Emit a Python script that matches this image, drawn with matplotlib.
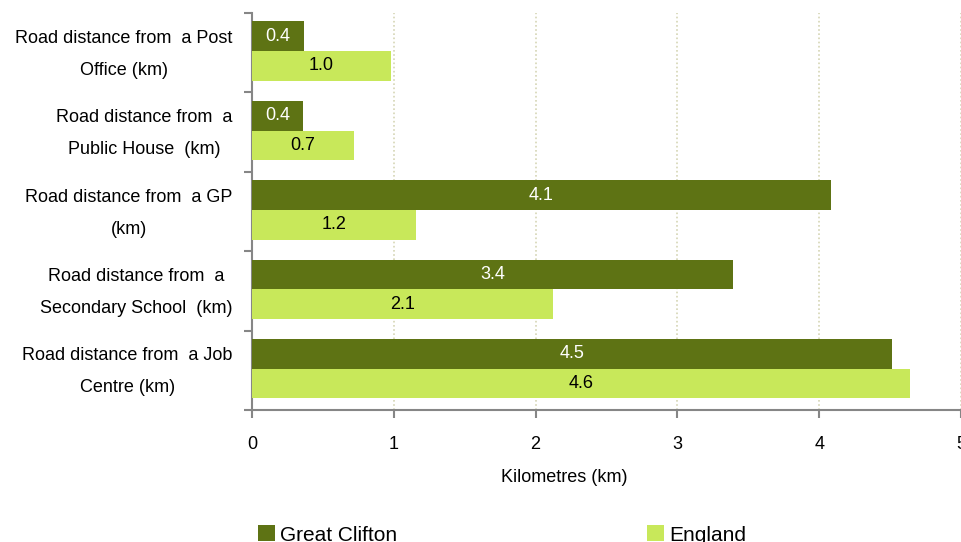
import matplotlib
matplotlib.use('Agg')
import matplotlib.pyplot as plt
import numpy as np

plt.rcParams['font.family'] = ['Liberation Sans', 'DejaVu Sans']

categories = ['Road distance from  a Post\nOffice (km)',
              'Road distance from  a\nPublic House  (km)',
              'Road distance from  a GP\n(km)',
              'Road distance from  a\nSecondary School  (km)',
              'Road distance from  a Job\nCentre (km)']
great_clifton = [0.37, 0.36, 4.08, 3.39, 4.51]
england = [0.98, 0.72, 1.16, 2.12, 4.64]
series_names = ['Great Clifton', 'England']

c_dark = '#5E7314'
c_light = '#C8E85A'
grey = '#868686'

fig = plt.figure(figsize=(9.61, 5.42), dpi=100)
ax = fig.add_axes([252/961, 1 - 410/542, 709/961, 397/542])

y = np.arange(len(categories))
h = 0.375
b1 = ax.barh(y - h/2 - 0.02, great_clifton, h, color=c_dark, label=series_names[0], zorder=3)
b2 = ax.barh(y + h/2 - 0.02, england, h, color=c_light, label=series_names[1], zorder=3)

for bar, v in zip(b1, great_clifton):
    ax.text(bar.get_width()/2, bar.get_y() + bar.get_height()/2, f'{v:.1f}',
            ha='center', va='center', color='white', fontsize=13, zorder=4)
for bar, v in zip(b2, england):
    ax.text(bar.get_width()/2, bar.get_y() + bar.get_height()/2, f'{v:.1f}',
            ha='center', va='center', color='black', fontsize=13, zorder=4)

ax.set_xlim(0, 5)
ax.set_ylim(len(categories) - 0.5, -0.5)
ax.set_xticks(range(6))
ax.tick_params(axis='x', length=6, width=1.5, color=grey, pad=13, labelsize=13)

# category boundaries as major ticks, labels on minor ticks
ax.set_yticks(np.arange(-0.5, len(categories)))
ax.set_yticklabels([])
ax.set_yticks(y - 0.1, minor=True)
ax.set_yticklabels(categories, minor=True, fontsize=13, linespacing=2.15, multialignment='center')
ax.tick_params(axis='y', which='major', length=6, width=1.5, color=grey)
ax.tick_params(axis='y', which='minor', length=0, pad=14)

ax.grid(axis='x', linestyle=(0, (1, 1.5)), color='#D5D5B5', linewidth=1.2, zorder=0)
for s in ['top', 'right']:
    ax.spines[s].set_visible(False)
for s in ['left', 'bottom']:
    ax.spines[s].set_color(grey)
    ax.spines[s].set_linewidth(1.5)

fig.text(564/961, 1 - 477/542, 'Kilometres (km)', ha='center', va='center', fontsize=13)

fig.legend(handles=[b1, b2], labels=series_names, loc='center left',
           bbox_to_anchor=(258/961, 1 - 535/542), ncol=2, frameon=False,
           fontsize=15, handlelength=0.8, handleheight=0.8, handletextpad=0.25,
           columnspacing=12.0, borderaxespad=0, borderpad=0)

fig.savefig('out.png', dpi=100)
